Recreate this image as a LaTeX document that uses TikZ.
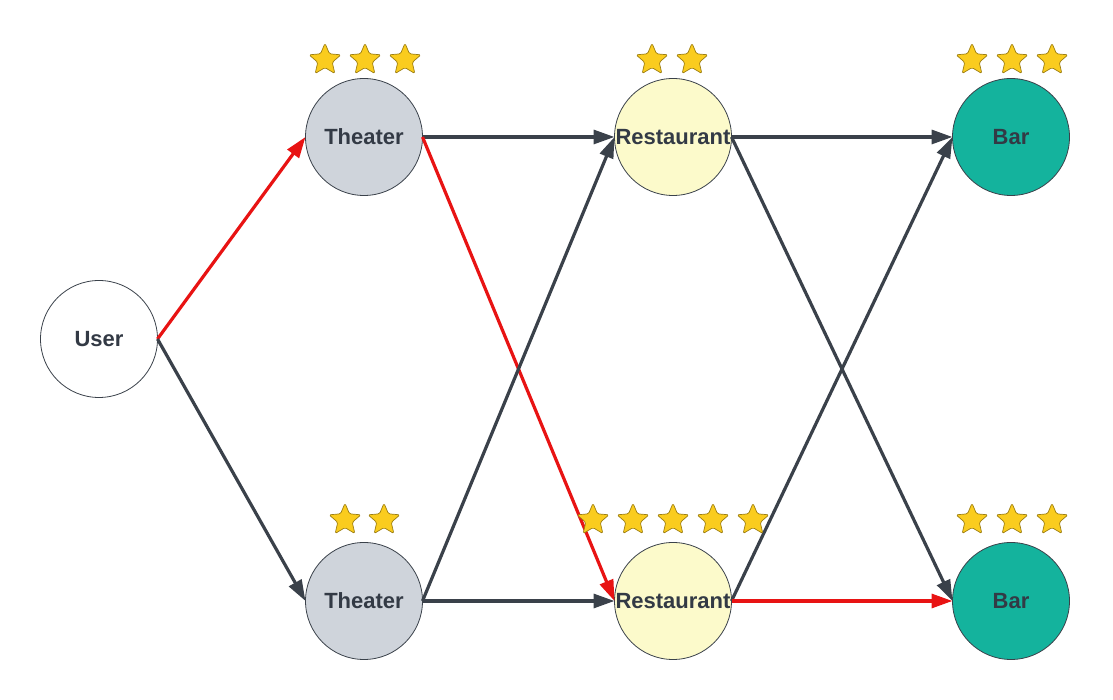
\documentclass[tikz,border=0pt]{standalone}
\usepackage{fontspec}
\setmainfont{Liberation Sans}
\usetikzlibrary{arrows.meta,shapes.geometric}
\definecolor{darkln}{HTML}{3A414A}
\definecolor{redln}{HTML}{E81313}
\definecolor{thfill}{HTML}{CFD4DB}
\definecolor{rsfill}{HTML}{FCFACB}
\definecolor{brfill}{HTML}{14B39D}
\definecolor{stfill}{HTML}{FACC1E}
\definecolor{stline}{HTML}{9C7E12}
\definecolor{txt}{HTML}{333A45}
\tikzset{
  place/.style={circle, draw=darkln, line width=0.8pt, minimum size=117pt, inner sep=0pt, outer sep=0pt,
    text=txt, font=\fontsize{22}{26}\selectfont\bfseries},
  userbox/.style={place, fill=white},
  theater/.style={place, fill=thfill},
  restaurant/.style={place, fill=rsfill},
  bar/.style={place, fill=brfill},
  edge/.style={line width=3.2pt, draw=darkln, -{Triangle[length=21pt,width=14pt]}},
  redge/.style={edge, draw=redln},
  goldstar/.style={star, star points=5, star point ratio=2.2, minimum size=33.5pt, inner sep=0pt,
    fill=stfill, draw=stline, line width=0.7pt, rounded corners=1.5pt}
}
\begin{document}
\begin{tikzpicture}[x=1pt,y=1pt]
\useasboundingbox (0,0) rectangle (1113,700);
% nodes
\node[userbox] (user) at (99,361) {User};
\node[theater] (th1) at (364,563) {Theater};
\node[theater] (th2) at (364,99) {Theater};
\node[restaurant] (rs1) at (673,563) {Restaurant};
\node[restaurant] (rs2) at (673,99) {Restaurant};
\node[bar] (br1) at (1011,563) {Bar};
\node[bar] (br2) at (1011,99) {Bar};
% edges
\draw[redge] (user.east) -- (th1.west);
\draw[edge] (user.east) -- (th2.west);
\draw[edge] (th1.east) -- (rs1.west);
\draw[redge] (th1.east) -- (rs2.west);
\draw[edge] (th2.east) -- (rs1.west);
\draw[edge] (th2.east) -- (rs2.west);
\draw[edge] (rs1.east) -- (br1.west);
\draw[edge] (rs1.east) -- (br2.west);
\draw[edge] (rs2.east) -- (br1.west);
\draw[redge] (rs2.east) -- (br2.west);
% stars
\node[goldstar] (a1) at (325,640) {};
\node[goldstar] (a2) at (365,640) {};
\node[goldstar] (a3) at (405,640) {};
\node[goldstar] (b1) at (652,640) {};
\node[goldstar] (b2) at (692,640) {};
\node[goldstar] (c1) at (972,640) {};
\node[goldstar] (c2) at (1012,640) {};
\node[goldstar] (c3) at (1052,640) {};
\node[goldstar] (d1) at (345,180) {};
\node[goldstar] (d2) at (384,180) {};
\node[goldstar] (e1) at (593,180) {};
\node[goldstar] (e2) at (633,180) {};
\node[goldstar] (e3) at (673,180) {};
\node[goldstar] (e4) at (713,180) {};
\node[goldstar] (e5) at (753,180) {};
\node[goldstar] (f1) at (972,180) {};
\node[goldstar] (f2) at (1012,180) {};
\node[goldstar] (f3) at (1052,180) {};
\end{tikzpicture}
\end{document}
